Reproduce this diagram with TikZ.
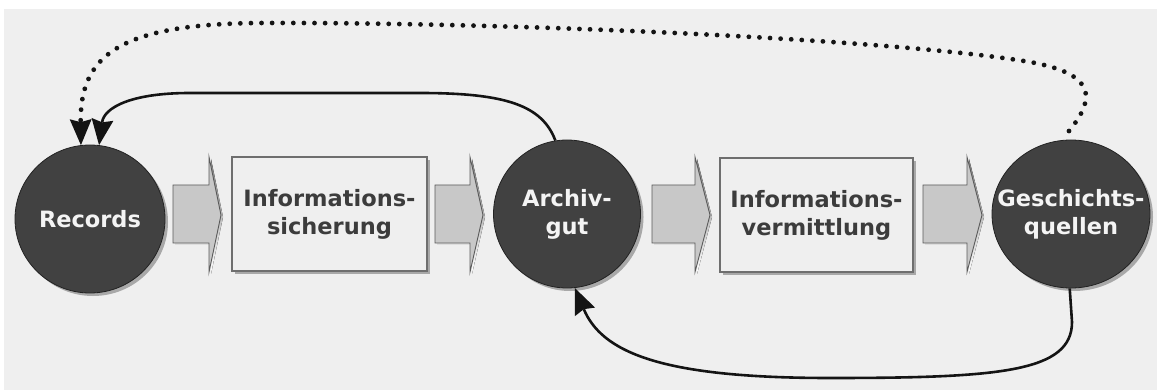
\documentclass[tikz,border=0pt]{standalone}
\usepackage{fontspec}
\setmainfont{DejaVu Sans}
\usetikzlibrary{shapes.geometric,arrows.meta}

\definecolor{panel}{HTML}{EFEFEF}
\definecolor{hubfill}{HTML}{414141}
\definecolor{hubline}{HTML}{222222}
\definecolor{hubtext}{HTML}{F4F4F4}
\definecolor{boxline}{HTML}{6E6E6E}
\definecolor{boxtext}{HTML}{3C3C3C}
\definecolor{flowfill}{HTML}{C8C8C8}
\definecolor{flowline}{HTML}{5A5A5A}
\definecolor{shade}{HTML}{A8A8A8}
\definecolor{ink}{HTML}{141414}

% horizontal block arrow: shaft from #1 to #2, tip at #3 (pixel units)
\newcommand\flowarrow[3]{%
  \fill[shade] (#1+2,187) -- (#2+2,187) -- (#2+2,159) -- (#3+2,217)
    -- (#2+2,274) -- (#2+2,245) -- (#1+2,245) -- cycle;
  \filldraw[fill=flowfill,draw=flowline,line width=0.9pt]
    (#1,185) -- (#2,185) -- (#2,157) -- (#3,215)
    -- (#2,272) -- (#2,243) -- (#1,243) -- cycle;
}

\begin{document}
\begin{tikzpicture}[x=1pt,y=-1pt,
  hub/.style={ellipse,fill=hubfill,draw=hubline,line width=0.8pt,inner sep=0pt},
  hubshade/.style={ellipse,fill=shade,inner sep=0pt},
  hublabel/.style={text=hubtext,font=\bfseries\fontsize{22.5}{28}\selectfont,align=center,inner sep=0pt},
  stagebox/.style={rectangle,fill=panel,draw=boxline,line width=1.3pt,
    text=boxtext,font=\bfseries\fontsize{22.5}{28}\selectfont,align=center,inner sep=0pt},
  stageshade/.style={rectangle,fill=shade,inner sep=0pt},
  tip/.tip={Stealth[length=26pt,width=22pt,inset=3pt,line width=0pt]},
  link/.style={draw=ink,line width=2.6pt,-tip},
  dotlink/.style={draw=ink,line width=4.8pt,line cap=round,dash pattern=on 0pt off 10.6pt,-tip}
]
\useasboundingbox (0,0) rectangle (1157,390);
\fill[white] (0,0) rectangle (1157,390);
\fill[panel] (4,9) rectangle (1157,390);

% shadows under the hubs and boxes
\node[hubshade,minimum width=150pt,minimum height=148pt] (rec-s) at (93,222) {};
\node[hubshade,minimum width=147pt,minimum height=148pt] (arc-s) at (570,217) {};
\node[hubshade,minimum width=158pt,minimum height=148pt] (geq-s) at (1074,217) {};
\node[stageshade,minimum width=195pt,minimum height=114pt] (box1-s) at (332.5,217) {};
\node[stageshade,minimum width=193pt,minimum height=114pt] (box2-s) at (819.5,218) {};

% hubs
\node[hub,minimum width=150pt,minimum height=148pt] (rec) at (90,219) {};
\node[hublabel] (rec-t) at (rec) {Records};
\node[hub,minimum width=147pt,minimum height=148pt] (arc) at (567,214) {};
\node[hublabel] (arc-t) at (arc) {Archiv-\\gut};
\node[hub,minimum width=158pt,minimum height=148pt] (geq) at (1071,214) {};
\node[hublabel] (geq-t) at (geq) {Geschichts-\\quellen};

% process boxes
\node[stagebox,minimum width=195pt,minimum height=114pt] (box1) at (329.5,214) {Informations-\\sicherung};
\node[stagebox,minimum width=193pt,minimum height=114pt] (box2) at (816.5,215) {Informations-\\vermittlung};

% block arrows between the stages
\flowarrow{173}{209}{221}
\flowarrow{435}{470}{483}
\flowarrow{652}{695}{710}
\flowarrow{923}{967}{982}

% feedback connectors
\draw[link] (arc.99) .. controls (542,105) and (505,93) .. (420,93)
  -- (190,93) .. controls (130,93) and (104,108) .. (rec.83);
\draw[link] (geq.-91) -- (1072,322) .. controls (1072,372) and (1000,378) .. (830,378)
  .. controls (660,378) and (602,352) .. (arc.-84);
\draw[dotlink] (1069,131) .. controls (1096,98) and (1096,74) .. (1030,62)
  .. controls (900,40) and (520,22) .. (260,23)
  .. controls (120,24) and (80,55) .. (rec.97);
\end{tikzpicture}
\end{document}
